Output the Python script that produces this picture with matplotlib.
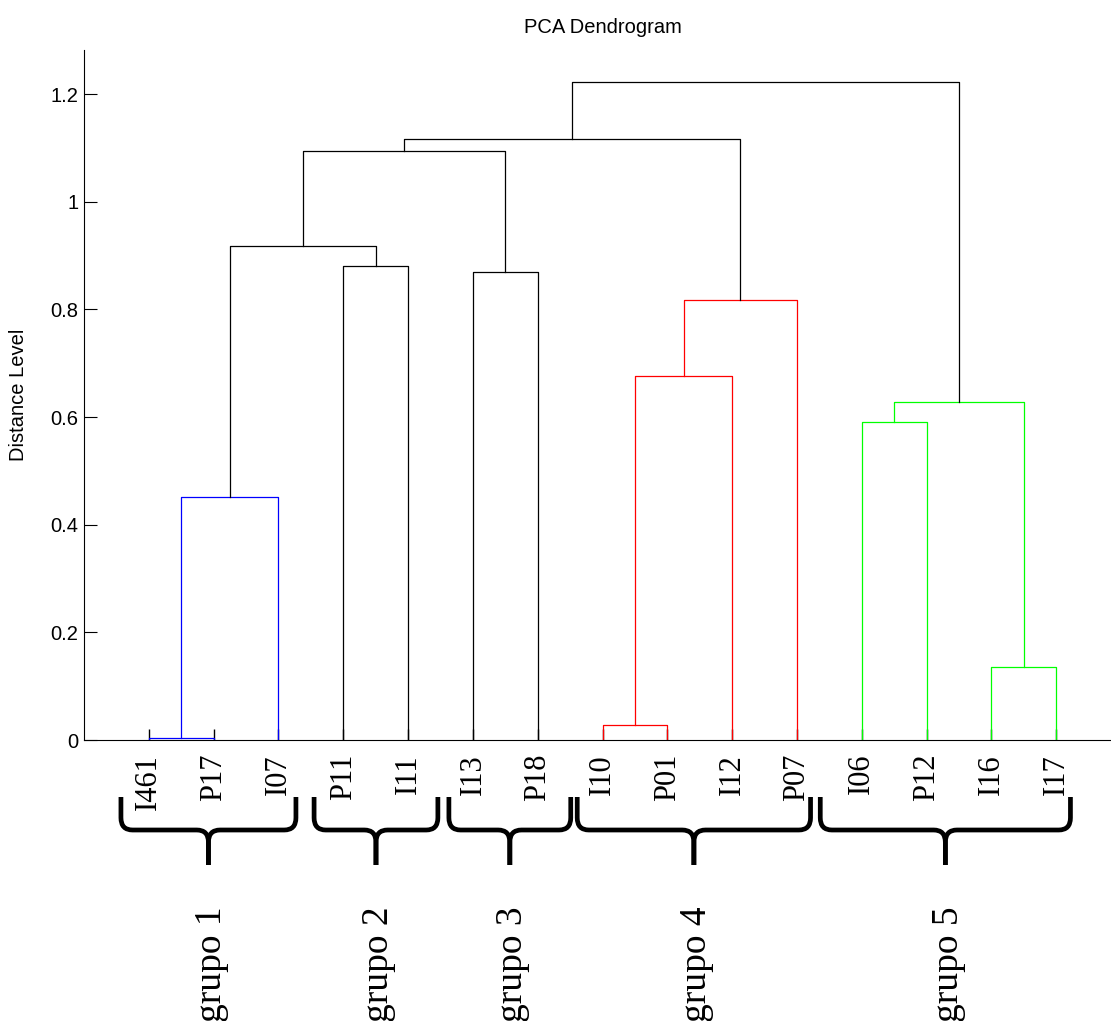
import matplotlib
matplotlib.use("Agg")
import matplotlib.pyplot as plt
import matplotlib.transforms as mtransforms
from matplotlib.path import Path
from matplotlib.patches import PathPatch

### DATA ###
leaves = ["I461", "P17", "I07", "P11", "I11", "I13", "P18",
          "I10", "P01", "I12", "P07", "I06", "P12", "I16", "I17"]

# links: children are leaf index (0..14) or new node (15, 16, ...)
link_left   = [0, 15, 3, 16, 5, 18, 7, 21, 22, 20, 11, 13, 25, 24]
link_right  = [1, 2, 4, 17, 6, 19, 8, 9, 10, 23, 12, 14, 26, 27]
link_height = [0.004, 0.452, 0.880, 0.918, 0.870, 1.094, 0.027, 0.676,
               0.818, 1.116, 0.591, 0.135, 0.628, 1.222]
link_color  = ["b", "b", "k", "k", "k", "k", "r", "r",
               "r", "k", "lime", "lime", "lime", "k"]

group_names = ["grupo 1", "grupo 2", "grupo 3", "grupo 4", "grupo 5"]
brace_left  = [0.57, 3.55, 5.63, 7.61, 11.36]
brace_right = [3.27, 5.46, 7.51, 11.21, 15.22]

### PLOTTING ###
sans = ["Liberation Sans", "DejaVu Sans"]
serif = ["Liberation Serif", "DejaVu Serif"]
plt.rcParams['font.family'] = sans

fig = plt.figure(figsize=(11.11, 10.21), dpi=100)
ax = fig.add_axes([84/1111, 281/1021, 1037/1111, 690/1021])

xpos = [i + 1 for i in range(len(leaves))]
ypos = [0.0] * len(leaves)
for l, r, h, c in zip(link_left, link_right, link_height, link_color):
    xl, xr = xpos[l], xpos[r]
    ax.plot([xl, xl, xr, xr], [ypos[l], h, h, ypos[r]], color=c, lw=0.9)
    xpos.append((xl + xr) / 2)
    ypos.append(h)

ax.set_xlim(0, 16)
ax.set_ylim(0, 1.282)
ax.spines['top'].set_visible(False)
ax.spines['right'].set_visible(False)
ax.set_xticks(range(1, len(leaves) + 1))
ax.set_xticklabels(leaves, rotation=90, fontfamily=serif, fontsize=22)
ax.set_yticks([0, 0.2, 0.4, 0.6, 0.8, 1.0, 1.2])
ax.set_yticklabels(["0", "0.2", "0.4", "0.6", "0.8", "1", "1.2"], fontsize=14.5)
ax.tick_params(axis='x', direction='in', length=8, width=1, pad=10)
ax.tick_params(axis='y', direction='in', length=9, width=0.8, pad=4)
ax.set_title("PCA Dendrogram", fontsize=14.5, pad=12)
ax.set_ylabel("Distance Level", fontsize=14.5)
ax.yaxis.set_label_coords(-0.054, 0.5)

# braces and group names under the leaf labels
trans = mtransforms.blended_transform_factory(ax.transData, fig.transFigure)
ytop, ymid, ybot = 1 - 797/1021, 1 - 830/1021, 1 - 865/1021
dx, ry = 0.18, 0.012
for L, R, name in zip(brace_left, brace_right, group_names):
    M = (L + R) / 2
    for s, E in [(1, L), (-1, R)]:
        verts = [(E, ytop), (E, ymid + ry), (E, ymid), (E + s*dx, ymid),
                 (M - s*dx, ymid), (M, ymid), (M, ymid - ry), (M, ybot)]
        codes = [Path.MOVETO, Path.LINETO, Path.CURVE3, Path.CURVE3,
                 Path.LINETO, Path.CURVE3, Path.CURVE3, Path.LINETO]
        ax.add_patch(PathPatch(Path(verts, codes), fill=False, lw=3.4,
                               color="k", transform=trans, clip_on=False))
    ax.text(M + 0.05, 1 - 906/1021, name, rotation=90, ha='center', va='top',
            fontfamily=serif, fontsize=27, transform=trans)

fig.savefig("out.png", dpi=100)
